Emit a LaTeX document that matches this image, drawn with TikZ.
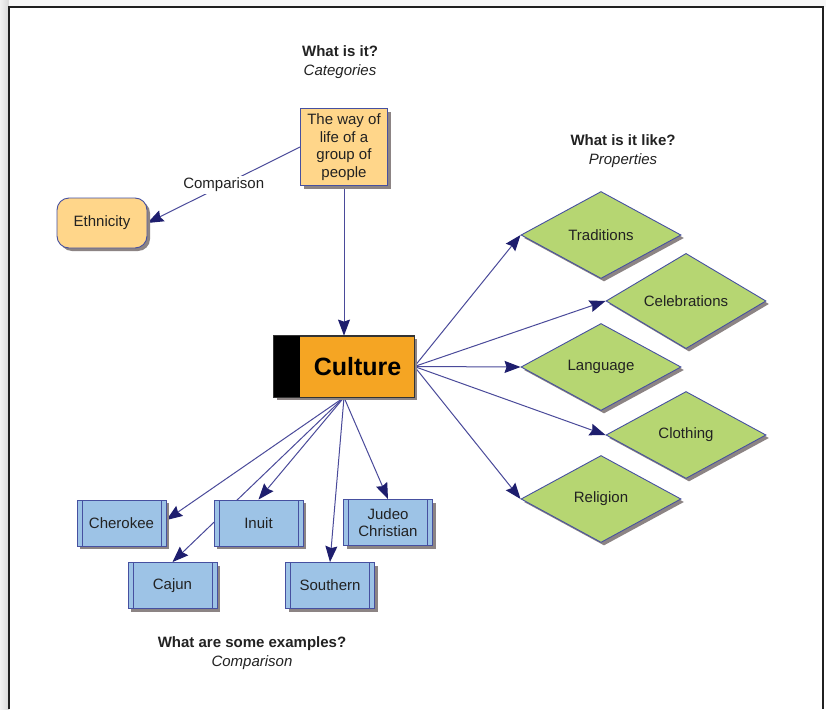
\documentclass[tikz,border=0pt]{standalone}
\usepackage{fontspec}
\setmainfont{Liberation Sans}
\usetikzlibrary{shapes.geometric,shadows,arrows.meta,calc}
\definecolor{lorange}{HTML}{FFD68A}
\definecolor{corange}{HTML}{F5A523}
\definecolor{dgreen}{HTML}{B6D672}
\definecolor{lblue}{HTML}{9DC3E6}
\definecolor{bordc}{HTML}{4650A0}
\definecolor{linec}{HTML}{4A4A9A}
\definecolor{tipc}{HTML}{1E1E6E}
\definecolor{txtc}{HTML}{222222}
\definecolor{shadc}{HTML}{8C8484}
\pgfdeclarelayer{bg}
\pgfdeclarelayer{edges}
\pgfsetlayers{bg,edges,main}
\tikzset{
  x=1pt, y=-1pt,
  every node/.style={font=\fontsize{15}{17.5}\selectfont, text=txtc},
  shad/.style={drop shadow={shadow xshift=3pt, shadow yshift=-3pt, fill=shadc, opacity=1}},
  wayboxstyle/.style={draw=bordc, line width=0.9pt, fill=lorange, shad, inner sep=0pt, align=center},
  ethnstyle/.style={draw=bordc, line width=0.9pt, fill=lorange, shad, rounded corners=12pt, minimum width=90pt, minimum height=50pt, inner sep=0pt},
  diam/.style={diamond, draw=bordc, line width=0.9pt, fill=dgreen, shad, minimum width=160pt, minimum height=87pt, inner sep=0pt},
  bluebox/.style={draw=bordc, line width=0.9pt, fill=lblue, shad, minimum width=89pt, minimum height=46pt, inner sep=0pt, align=center,
    path picture={
      \draw[bordc, line width=0.8pt] ([xshift=5pt]path picture bounding box.north west) -- ([xshift=5pt]path picture bounding box.south west);
      \draw[bordc, line width=0.8pt] ([xshift=-5pt]path picture bounding box.north east) -- ([xshift=-5pt]path picture bounding box.south east);
    }},
  conn/.style={draw=linec, line width=1pt, -{Stealth[length=16pt, width=12pt, inset=2pt, color=tipc, fill=tipc]}},
  header/.style={align=center, font=\fontsize{15}{18.5}\selectfont},
}
\begin{document}
\begin{tikzpicture}
\useasboundingbox (0,0) rectangle (826,709);
% page background
\begin{pgfonlayer}{bg}
\shade[left color=gray!10, right color=gray!30] (0,0) rectangle (9,709);
\fill[gray!6] (9,0) rectangle (826,7);
\fill[white] (9,7) rectangle (823,709);
\draw[gray!25!black, line width=2pt] (9,709) -- (9,7) -- (823,7) -- (823,709);
\end{pgfonlayer}

% headers
\node[header] (h1) at (340,62) {\textbf{What is it?}\\\textit{Categories}};
\node[header] (h2) at (623,151) {\textbf{What is it like?}\\\textit{Properties}};
\node[header] (h3) at (252,653) {\textbf{What are some examples?}\\\textit{Comparison}};

% nodes
\node[wayboxstyle, minimum width=87pt, minimum height=77pt] (way) at (344,147) {The way of\\life of a\\group of\\people};
\node[ethnstyle] (ethn) at (102,223) {Ethnicity};

\node[draw=black!80, line width=0.8pt, fill=corange, shad, minimum width=140pt, minimum height=61pt, inner sep=0pt] (culture) at (344,366.5) {};
\fill[black] (culture.north west) rectangle ($(culture.south west)+(26,0)$);
\draw[black!80, line width=0.8pt] (culture.north west) rectangle (culture.south east);
\node[font=\fontsize{25}{28}\selectfont\bfseries, text=black] (cultxt) at (357.5,367) {Culture};

\node[diam] (trad) at (601,235) {Traditions};
\node[diam] (cele) at (686,301) {Celebrations};
\node[diam] (lang) at (601,367) {Language};
\node[diam] (clot) at (686,435) {Clothing};
\node[diam] (reli) at (601,499) {Religion};

\node[bluebox] (cher) at (121.5,523) {Cherokee};
\node[bluebox] (inuit) at (258.5,523) {Inuit};
\node[bluebox] (judeo) at (388,522.5) {Judeo\\Christian};
\node[bluebox] (cajun) at (172.5,585.5) {Cajun};
\node[bluebox] (south) at (330,585.5) {Southern};

% connectors
\begin{pgfonlayer}{edges}
\draw[conn] (way.west) -- node[fill=white, inner sep=2pt] (cmp) {Comparison} (ethn.east);
\draw[conn] (way.south) -- (culture.north);
\draw[conn] (culture.east) -- (trad.west);
\draw[conn] (culture.east) -- (cele.west);
\draw[conn] (culture.east) -- (lang.west);
\draw[conn] (culture.east) -- (clot.west);
\draw[conn] (culture.east) -- (reli.west);
\draw[conn] (culture.south) -- ($(cher.east)+(0,-3)$);
\draw[conn] (culture.south) -- (inuit.north);
\draw[conn] (culture.south) -- (cajun.north);
\draw[conn] (culture.south) -- (south.north);
\draw[conn] (culture.south) -- (judeo.north);
\end{pgfonlayer}
\end{tikzpicture}
\end{document}
